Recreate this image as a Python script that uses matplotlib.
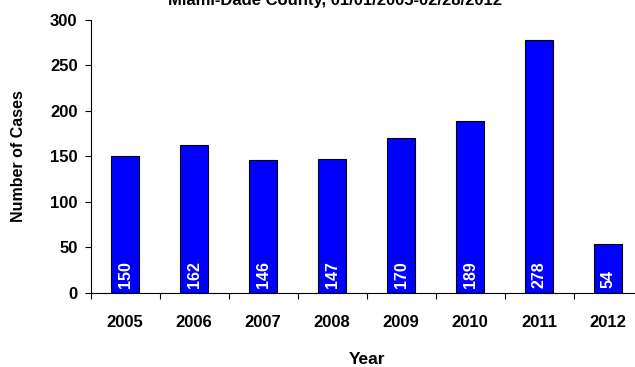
import numpy as np
import matplotlib
matplotlib.use('Agg')
import matplotlib.pyplot as plt

years = ['2005', '2006', '2007', '2008', '2009', '2010', '2011', '2012']
cases = [150, 162, 146, 147, 170, 189, 278, 54]
title = 'Miami-Dade County, 01/01/2005-02/28/2012'

plt.rcParams['font.family'] = ['Liberation Sans', 'DejaVu Sans']
plt.rcParams['font.weight'] = 'bold'

fig = plt.figure(figsize=(6.35, 3.67), dpi=100)
ax = fig.add_axes([90.7/635, 1 - 292.7/367, 552/635, 272.7/367])

x = np.arange(len(years))
bars = ax.bar(x, cases, width=0.41, color='#0000FF', edgecolor='black', linewidth=0.8)

# value labels written upwards from the base of each bar
for xi, v in zip(x, cases):
    ax.annotate(str(v), (xi, 0), xytext=(0, 3.5), textcoords='offset points',
                rotation=90, ha='center', va='bottom', color='white',
                fontsize=11.5, fontweight='bold')

ax.set_xlim(-0.5, len(years) - 0.5)
ax.set_ylim(0, 300)
ax.set_yticks(np.arange(0, 301, 50))
ax.set_xticks(x)
ax.set_xticklabels(years)
ax.set_xticks(np.arange(-0.5, len(years)), minor=True)
ax.tick_params(axis='x', which='major', length=0, pad=16, labelsize=12)
ax.tick_params(axis='x', which='minor', length=4.5, width=0.8, direction='out')
ax.tick_params(axis='y', length=4.5, width=0.8, direction='out', pad=5, labelsize=12)

for s in ['top', 'right']:
    ax.spines[s].set_visible(False)
for s in ['left', 'bottom']:
    ax.spines[s].set_linewidth(0.8)

fig.text(19/635, 1 - 156.5/367, 'Number of Cases', rotation=90, ha='center',
         va='center', fontsize=11.5, fontweight='bold')
fig.text(366.7/635, 1 - 360/367, 'Year', ha='center', va='center',
         fontsize=12.5, fontweight='bold')
fig.text(335/635, 1 - 4.5/367, title, ha='center', va='baseline',
         fontsize=12, fontweight='bold')

fig.savefig('out.png', dpi=100)
